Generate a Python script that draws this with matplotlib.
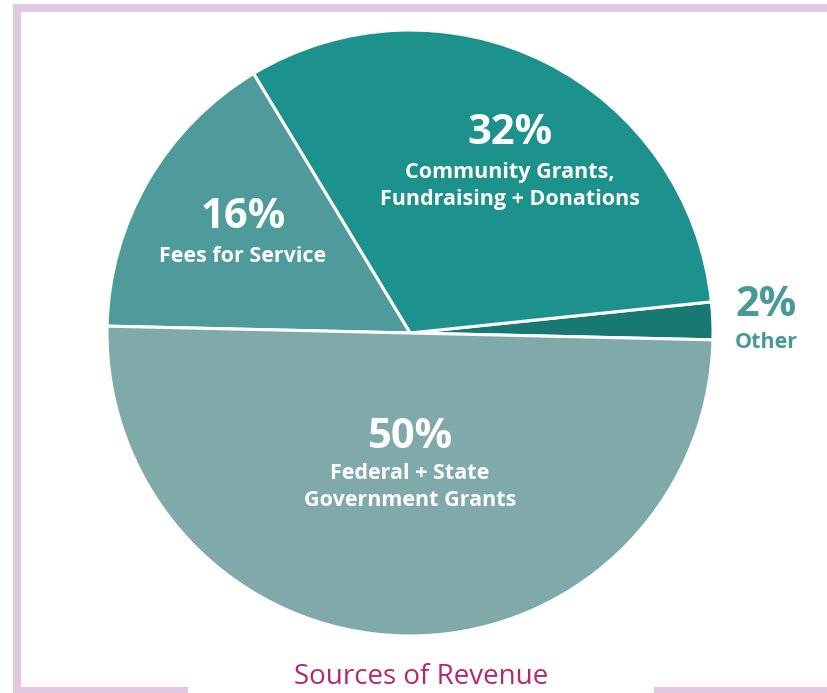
import matplotlib.pyplot as plt

# slice data (counterclockwise from the right)
percent = [2, 32, 16, 50]
pct_labels = ["2%", "32%", "16%", "50%"]
names = ["Other", "Community Grants,\nFundraising + Donations",
         "Fees for Service", "Federal + State\nGovernment Grants"]
colors = ["#187872", "#1D918C", "#4F9A9B", "#80A9AA"]

W, H = 827, 693
fig = plt.figure(figsize=(W / 100, H / 100), dpi=100)
ax = fig.add_axes([0, 0, 1, 1])

# pie centred at pixel (410, 333) with radius 303
ax.pie(percent, colors=colors, startangle=-1.3, counterclock=True,
       center=(410, H - 333), radius=303, frame=True,
       wedgeprops=dict(edgecolor="white", linewidth=2.2))
ax.set_xlim(0, W)
ax.set_ylim(0, H)
ax.set_aspect("equal")
ax.axis("off")

# frame around the chart
frame_col = "#E0C9E0"
lw = 5.8
ax.plot([17, W], [H - 8, H - 8], color=frame_col, lw=lw, solid_capstyle="butt")
ax.plot([17, 17], [H - 4, H - 691], color=frame_col, lw=lw, solid_capstyle="butt")
ax.plot([13, 188], [H - 691, H - 691], color=frame_col, lw=lw, solid_capstyle="butt")
ax.plot([654, W], [H - 691, H - 691], color=frame_col, lw=lw, solid_capstyle="butt")

font = "Open Sans"
# label positions in pixel coords (percent y, name y)
pos = [(766, 306, 343), (510, 133, 186), (243, 218, 256), (410, 437, 487)]
for i, (x, yp, yn) in enumerate(pos):
    c = "#4A9999" if i == 0 else "white"
    ax.text(x, H - yp, pct_labels[i], ha="center", va="center", color=c,
            fontsize=30, fontweight="bold", family=font)
    ax.text(x, H - yn, names[i], ha="center", va="center", color=c,
            fontsize=15.5, fontweight="bold", family=font,
            linespacing=1.4)

ax.text(421, H - 684, "Sources of Revenue", ha="center", va="baseline",
        color="#B5266E", fontsize=20, family=font)

fig.savefig("out.png", dpi=100)
